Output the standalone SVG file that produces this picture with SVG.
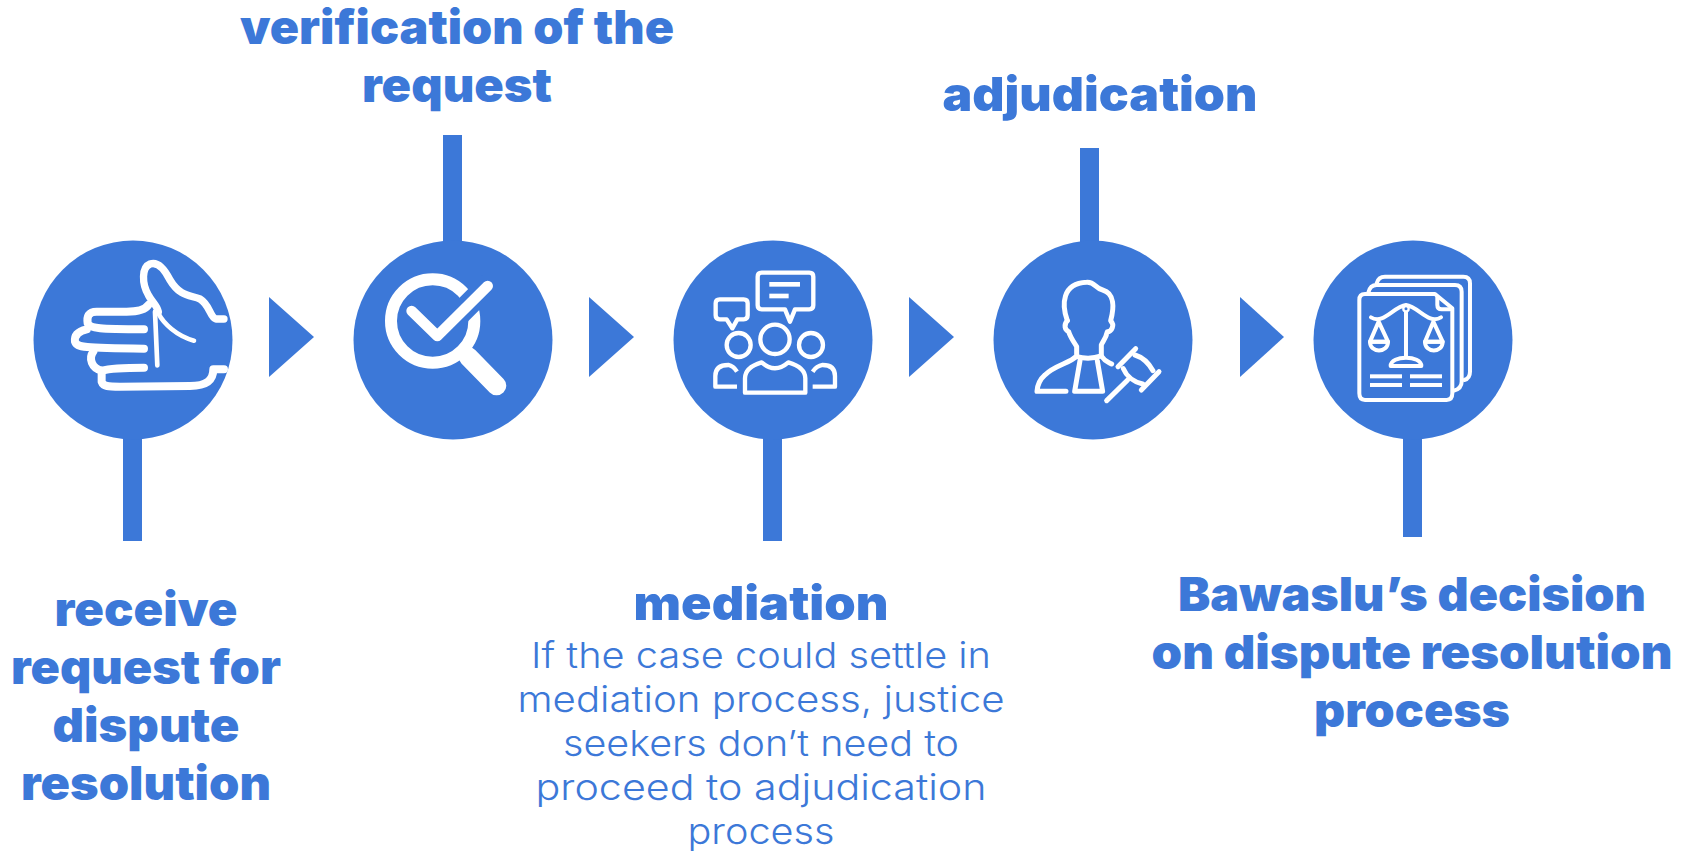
<svg xmlns="http://www.w3.org/2000/svg" width="1689" height="854" viewBox="0 0 1689 854">
<style>
.c{fill:#3c78d8}
.b{font-family:"Inter","Liberation Sans",sans-serif;font-weight:900;font-size:47px;fill:#3c78d8;text-anchor:middle}
.l{font-family:"Inter","Liberation Sans",sans-serif;font-weight:300;font-size:36px;fill:#3c78d8;text-anchor:middle}
.i{fill:none;stroke:#fff;stroke-linecap:round;stroke-linejoin:round}
</style>
<rect width="1689" height="854" fill="#fff"/>
<g id="connectors">
<rect class="c" x="123" y="430" width="19" height="111"/>
<rect class="c" x="443" y="135" width="19" height="110"/>
<rect class="c" x="763" y="430" width="19" height="111"/>
<rect class="c" x="1080" y="148" width="19" height="97"/>
<rect class="c" x="1403" y="430" width="19" height="107"/>
<polygon class="c" points="269,297 314,337 269,377"/>
<polygon class="c" points="589,297 634,337 589,377"/>
<polygon class="c" points="909,297 954,337 909,377"/>
<polygon class="c" points="1240,297 1284,337 1240,377"/>
</g>
<g id="node-receive">
<circle class="c" cx="133" cy="340" r="99.5"/>
<g transform="translate(20 230) scale(.3333)"><g class="i" stroke-width="24">
<path d="M612,267H588C570,262 570,225 540,207C510,195 480,200 450,150C430,110 410,95 390,102C365,112 365,160 385,195C395,215 410,225 415,245" stroke-width="22"/>
<path d="M415,250C430,280 470,318 522,332" stroke-width="14"/>
<path d="M385,225C375,240 350,245 320,245H230C205,245 200,260 203,280C210,296 240,297 372,298" />
<path d="M200,298C170,305 163,320 165,335C170,352 190,354 372,356"/>
<path d="M220,365C205,385 215,415 245,422C270,415 300,413 372,413"/>
<path d="M245,425V455C250,470 265,470 300,470L510,468C560,468 580,450 580,418H612"/>
<path d="M405,245L412,406" stroke-width="14"/>
</g></g>
<text class="b" x="146" y="626" textLength="183" lengthAdjust="spacingAndGlyphs">receive</text>
<text class="b" x="146" y="684" textLength="270" lengthAdjust="spacingAndGlyphs">request for</text>
<text class="b" x="146" y="742" textLength="187" lengthAdjust="spacingAndGlyphs">dispute</text>
<text class="b" x="146" y="800" textLength="250" lengthAdjust="spacingAndGlyphs">resolution</text>
</g>
<g id="node-verification">
<circle class="c" cx="453" cy="340" r="99.5"/>
<g transform="translate(340 230) scale(.3333)">
<circle cx="278" cy="273" r="125" fill="none" stroke="#fff" stroke-width="36"/>
<path d="M340,270L450,160" stroke="#3c78d8" stroke-width="68" fill="none"/>
<path class="i" d="M385,380L470,467" stroke-width="58"/>
<path class="i" d="M215,243L292,318L443,168" stroke-width="32"/>
</g>
<text class="b" x="457" y="44" textLength="434" lengthAdjust="spacingAndGlyphs">verification of the</text>
<text class="b" x="457" y="102" textLength="190" lengthAdjust="spacingAndGlyphs">request</text>
</g>
<g id="node-mediation">
<circle class="c" cx="773" cy="340" r="99.5"/>
<g transform="translate(660 230) scale(.3333)"><g class="i" stroke-width="13">
<path d="M305,128H448Q460,128 460,140V226Q460,238 448,238H405L390,275L375,238H305Q293,238 293,226V140Q293,128 305,128Z"/>
<path d="M179,208H251Q263,208 263,220V256Q263,268 251,268H232L217,295L200,268H179Q167,268 167,256V220Q167,208 179,208Z"/>
<circle cx="236" cy="345" r="36"/><circle cx="345" cy="328" r="44"/><circle cx="453" cy="345" r="36"/>
<path d="M231,470H166V438Q166,405 205,405Q220,408 231,425" stroke-linecap="butt"/>
<path d="M458,470H525V438Q525,405 488,405Q470,408 458,425" stroke-linecap="butt"/>
<path d="M255,488V445Q255,412 305,397Q345,432 385,397Q436,412 436,445V488Z"/>
</g>
<rect x="328" y="156" width="92" height="14" fill="#fff"/>
<rect x="328" y="191" width="58" height="14" fill="#fff"/>
</g>
<text class="b" x="761" y="620" textLength="255" lengthAdjust="spacingAndGlyphs">mediation</text>
<text class="l" x="761" y="668" textLength="460" lengthAdjust="spacingAndGlyphs">If the case could settle in</text>
<text class="l" x="761" y="712" textLength="487" lengthAdjust="spacingAndGlyphs">mediation process, justice</text>
<text class="l" x="761" y="756" textLength="396" lengthAdjust="spacingAndGlyphs">seekers don’t need to</text>
<text class="l" x="761" y="800" textLength="451" lengthAdjust="spacingAndGlyphs">proceed to adjudication</text>
<text class="l" x="761" y="844" textLength="147" lengthAdjust="spacingAndGlyphs">process</text>
</g>
<g id="node-adjudication">
<circle class="c" cx="1093" cy="340" r="99.5"/>
<g transform="translate(980 230) scale(.3333)"><g class="i" stroke-width="15">
<path d="M262,272C245,225 245,160 320,157C345,155 345,175 368,180C405,190 402,235 392,272C405,285 395,305 382,305C378,325 368,335 364,345V378C375,395 382,395 395,402"/>
<path d="M262,272C250,285 255,300 266,305C272,325 285,340 290,350V378C270,400 225,405 195,435C178,450 172,470 171,484H258"/>
<path d="M290,380Q328,390 364,378"/>
<path d="M300,392L284,484H368L352,392"/>
<path d="M380,512L443,450"/>
<path d="M414,410L467,356M484,480L537,425"/>
<path d="M465,375Q498,385 519,422"/>
<path d="M430,416Q445,452 488,462"/>
</g></g>
<text class="b" x="1100" y="111" textLength="315" lengthAdjust="spacingAndGlyphs">adjudication</text>
</g>
<g id="node-decision">
<circle class="c" cx="1413" cy="340" r="99.5"/>
<g transform="translate(1300 230) scale(.3333)"><g class="i" stroke-width="12">
<path d="M230,160Q235,140 255,140H490Q510,140 510,160V425Q510,445 493,450"/>
<path d="M205,188Q210,165 230,165H465Q485,165 485,185V455Q485,475 462,482"/>
<path d="M405,192H195Q178,192 178,210V490Q178,510 195,510H440Q457,510 457,490V235Z"/>
<path d="M412,200V225Q412,238 425,238H450"/>
<path d="M318,245V378"/>
<path d="M213,262C250,285 280,230 318,225C356,230 386,285 423,262"/>
<path d="M236,275L210,335H264ZM400,275L375,335H428Z"/>
<path d="M210,335C210,370 264,370 264,335ZM375,335C375,370 428,370 428,335Z"/>
<path d="M272,408C272,375 364,375 364,408Z"/>
</g>
<circle cx="318" cy="236" r="8" fill="#3c78d8" stroke="#fff" stroke-width="7"/>
<g fill="#fff"><rect x="210" y="433" width="96" height="12"/><rect x="330" y="433" width="96" height="12"/><rect x="210" y="459" width="96" height="12"/><rect x="330" y="459" width="96" height="12"/></g>
</g>
<text class="b" x="1412" y="611" textLength="468" lengthAdjust="spacingAndGlyphs">Bawaslu’s decision</text>
<text class="b" x="1412" y="669" textLength="521" lengthAdjust="spacingAndGlyphs">on dispute resolution</text>
<text class="b" x="1412" y="727" textLength="196" lengthAdjust="spacingAndGlyphs">process</text>
</g>
</svg>
